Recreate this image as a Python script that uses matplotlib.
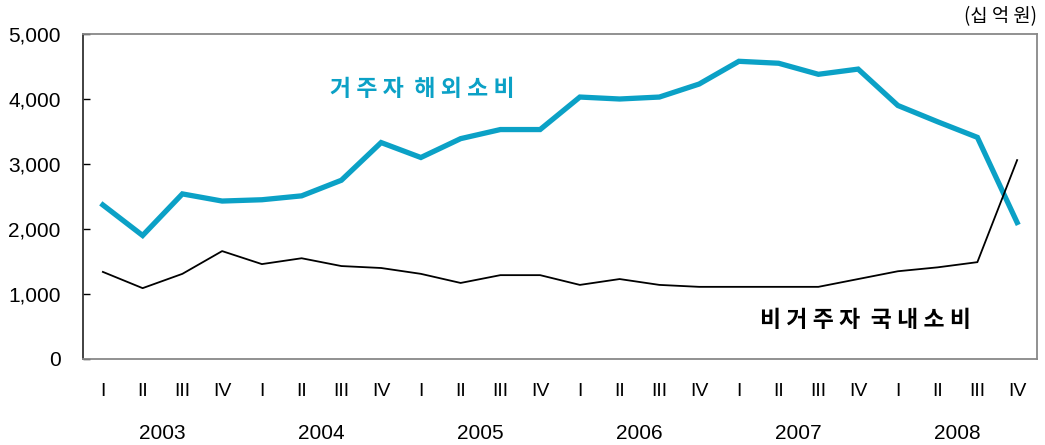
import matplotlib.pyplot as plt
import numpy as np

plt.rcParams['font.family'] = ['Liberation Sans', 'Noto Sans CJK KR', 'DejaVu Sans']

quarters = ["I", "II", "III", "IV"]
years = ["2003", "2004", "2005", "2006", "2007", "2008"]

# 거주자 해외소비 (십억원)
resident_abroad = [2370, 1900, 2540, 2430, 2450, 2510, 2750, 3330,
                   3100, 3390, 3530, 3530, 4030, 4000, 4030, 4230,
                   4580, 4550, 4380, 4460, 3900, 3650, 3410, 2100]
# 비거주자 국내소비 (십억원)
nonresident_domestic = [1340, 1090, 1310, 1660, 1460, 1550, 1430, 1400,
                        1310, 1170, 1290, 1290, 1140, 1230, 1140, 1110,
                        1110, 1110, 1110, 1230, 1350, 1410, 1490, 3060]

BLUE = "#0BA1C6"
KR = ["Noto Sans CJK KR", "DejaVu Sans"]

fig = plt.figure(figsize=(10.45, 4.45), dpi=100)
ax = fig.add_axes([83 / 1045, 1 - 359 / 445, (1037 - 83) / 1045, (359 - 34) / 445])

x = np.arange(len(resident_abroad))
ax.plot(x, resident_abroad, color=BLUE, lw=3.8, solid_joinstyle="miter")
ax.plot(x, nonresident_domestic, color="black", lw=1.3)

ax.set_xlim(-0.5, len(x) - 0.5)
ax.set_ylim(0, 5000)
ax.set_yticks(range(0, 5001, 1000))
ax.set_yticklabels([f"{v:,}" for v in range(0, 5001, 1000)], fontsize=15)
ax.tick_params(axis="y", direction="in", length=5, width=1, pad=16, colors="black")

ax.set_xticks(x)
ax.set_xticklabels(quarters * len(years), fontsize=14)
ax.tick_params(axis="x", length=0, pad=17)

for i, yr in enumerate(years):
    ax.text(i * 4 + 1.5, -0.23, yr, transform=ax.get_xaxis_transform(),
            ha="center", va="center", fontsize=15)

for side in ["top", "right", "bottom"]:
    ax.spines[side].set_color("#888888")
    ax.spines[side].set_linewidth(1.3)
ax.spines["left"].set_color("#333333")
ax.spines["left"].set_linewidth(1.3)

ax.text(1.0, 1.02, "(십 억 원)", transform=ax.transAxes, ha="right", va="bottom",
        fontsize=13.5, family=KR)

ax.text(5.71, 4150, "거 주 자  해 외 소 비", color=BLUE, fontsize=16.5, fontweight="bold",
        ha="left", va="center", family=KR)
ax.text(16.53, 590, "비 거 주 자  국 내 소 비", color="black", fontsize=16.5, fontweight="bold",
        ha="left", va="center", family=KR)

fig.savefig("out.png", dpi=100)
